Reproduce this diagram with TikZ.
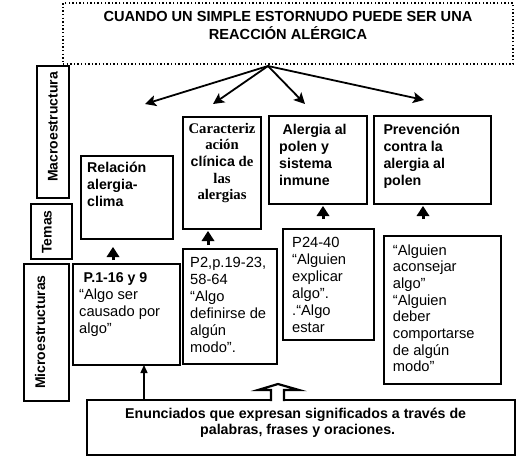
\documentclass[tikz,border=0pt]{standalone}
\usepackage{fontspec}
\setmainfont{Liberation Sans}
\newfontfamily\seriffont{Liberation Serif}
\usetikzlibrary{arrows.meta}
\newcommand{\tlft}[1]{\begin{tabular}[t]{@{}l@{}}#1\end{tabular}}
\newcommand{\tctr}[1]{\begin{tabular}[t]{@{}c@{}}#1\end{tabular}}
\begin{document}
\begin{tikzpicture}[x=1pt,y=-1pt,
  box/.style={draw, line width=1.3pt, inner sep=0pt, outer sep=0pt, anchor=north west},
  txt/.style={inner sep=0pt, anchor=base west, font=\fontsize{14.7}{17}\selectfont},
  btxt/.style={txt, font=\fontsize{14.2}{17}\selectfont\bfseries},
  side/.style={inner sep=0pt, rotate=90, font=\fontsize{14}{17}\selectfont\bfseries},
  mainarrow/.style={line width=1.8pt, -{Stealth[length=11pt,width=11pt,inset=2.5pt]}},
  fathead/.style={fill=black},
  fatstem/.style={line width=3pt},
  thinarrow/.style={line width=1.5pt, -{Triangle[length=8pt,width=7pt]}}]
\useasboundingbox (0,0) rectangle (523,459);
% boxes
\node[box, line width=1.4pt, dash pattern=on 1.4pt off 2.2pt, minimum width=450pt, minimum height=61pt] (title) at (63,3) {};
\node[box, minimum width=32pt, minimum height=132pt] (macro) at (37,66) {};
\node[box, minimum width=41pt, minimum height=55pt] (temas) at (31,204) {};
\node[box, minimum width=45pt, minimum height=137pt] (micro) at (24,264) {};
\node[box, minimum width=92pt, minimum height=83pt] (rel) at (81,156) {};
\node[box, minimum width=78pt, minimum height=112pt] (car) at (183,117) {};
\node[box, minimum width=98pt, minimum height=88pt] (ale) at (269,116) {};
\node[box, minimum width=117pt, minimum height=88pt] (pre) at (374,116) {};
\node[box, line width=2.2pt, minimum width=107pt, minimum height=101pt] (p1) at (73,264) {};
\node[box, minimum width=94pt, minimum height=115pt] (p2) at (183,249) {};
\node[box, minimum width=91pt, minimum height=111pt] (p24) at (283,229) {};
\node[box, minimum width=117pt, minimum height=148pt] (alg) at (384,236) {};
\node[box, minimum width=428pt, minimum height=55pt] (bot) at (87,400) {};
% texts
\node[inner sep=0pt, anchor=base, font=\fontsize{14.6}{17.3}\selectfont\bfseries] (titletxt) at (288,21.7)
  {\tctr{CUANDO UN SIMPLE ESTORNUDO PUEDE SER UNA\\REACCIÓN ALÉRGICA}};
\node[side] (macrotxt) at (53,127) {Macroestructura};
\node[side] (temastxt) at (47,232) {Temas};
\node[side] (microtxt) at (40,332) {Microestructuras};
\node[btxt] (reltxt) at (87,172.7) {\tlft{Relación\\alergia-\\clima}};
\node[inner sep=0pt, anchor=base, font=\fontsize{14.7}{16.7}\selectfont\seriffont\bfseries] (cartxt) at (222,133)
  {\tctr{Caracteriz\\ación\\{\fontsize{14.2}{16.7}\selectfont\rmfamily\bfseries clínica} de\\las\\alergias}};
\node[btxt] (aletxt) at (279,134.5) {\tlft{\hspace*{3.5pt}Alergia al\\polen y\\sistema\\inmune}};
\node[btxt] (pretxt) at (383.3,134.5) {\tlft{Prevención\\contra la\\alergia al\\polen}};
\node[txt] (p1txt) at (79,282) {\tlft{\hspace*{4.5pt}{\fontsize{14.2}{17}\selectfont\bfseries P.1-16 y 9}\\“Algo ser\\causado por\\algo”}};
\node[txt] (p2txt) at (190,267) {\tlft{P2,p.19-23,\\58-64\\“Algo\\definirse de\\algún\\modo”.}};
\node[txt] (p24txt) at (292,247) {\tlft{P24-40\\“Alguien\\explicar\\algo”.\\.“Algo\\estar}};
\node[txt, font=\fontsize{14.7}{16.7}\selectfont] (algtxt) at (392.7,255) {\tlft{“Alguien\\aconsejar\\algo”\\“Alguien\\deber\\comportarse\\de algún\\modo”}};
\node[btxt, font=\fontsize{14.2}{16}\selectfont\bfseries] (bottxt) at (125,418.3)
  {\tlft{Enunciados que expresan significados a través de\\\hspace*{75pt}palabras, frases y oraciones.}};
% arrows from title
\coordinate (src) at (268,66);
\coordinate (t1) at (145,104);
\coordinate (t2) at (213,104);
\coordinate (t3) at (305,104);
\coordinate (t4) at (424,100);
\draw[mainarrow] (src) -- (t1);
\draw[mainarrow] (src) -- (t2);
\draw[mainarrow] (src) -- (t3);
\draw[mainarrow] (src) -- (t4);
% small fat arrows
\coordinate (a1b) at (113,260); \coordinate (a1t) at (113,247);
\coordinate (a2b) at (208,245); \coordinate (a2t) at (208,231);
\coordinate (a3b) at (323,219); \coordinate (a3t) at (323,206);
\coordinate (a4b) at (423,219); \coordinate (a4t) at (423,206);
\foreach \b/\t in {a1b/a1t,a2b/a2t,a3b/a3t,a4b/a4t}{
  \draw[fatstem] (\b) -- ++(0,-5);
  \fill[fathead] (\t) -- ++(-6.5,10) -- ++(13,0) -- cycle;
}
% arrow from bottom box to p1
\draw[thinarrow] (bot.north west -| 144,0) -- (p1.south -| 144,0);
% hollow block arrow
\draw[line width=2.2pt, fill=white, line join=miter]
  (271,401) -- (271,390) -- (258,390) -- (278,384) -- (299,390) -- (284,390) -- (284,401);
\end{tikzpicture}
\end{document}
